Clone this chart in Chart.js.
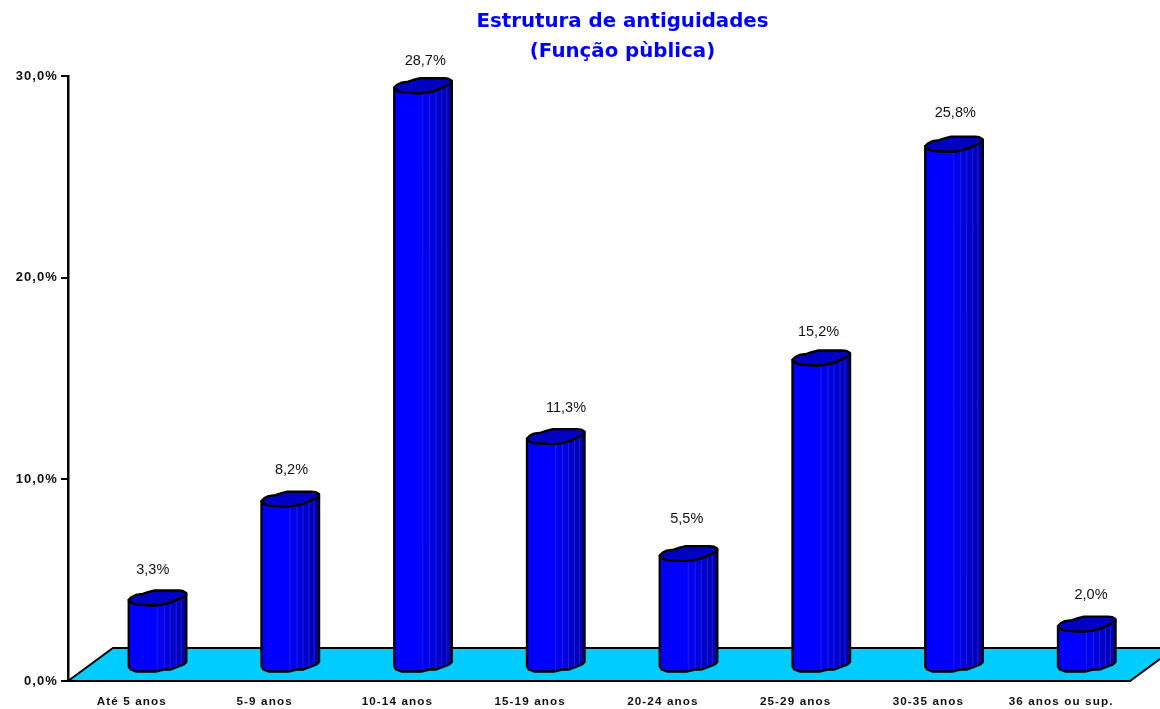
<!DOCTYPE html>
<html>
<head>
<meta charset="utf-8">
<title>Estrutura de antiguidades</title>
<script src="https://cdn.jsdelivr.net/npm/chart.js@4"></script>
<style>
  html, body { margin: 0; padding: 0; background: #fff; }
  canvas { display: block; }
</style>
</head>
<body>
<canvas id="antiguidadeChart" width="1160" height="709"></canvas>
<script>
// Dados
const categorias = ['Até 5 anos', '5-9 anos', '10-14 anos', '15-19 anos', '20-24 anos', '25-29 anos', '30-35 anos', '36 anos ou sup.'];
const valores = [3.3, 8.2, 28.7, 11.3, 5.5, 15.2, 25.8, 2.0];
const rotulos = ['3,3%', '8,2%', '28,7%', '11,3%', '5,5%', '15,2%', '25,8%', '2,0%'];
const ticksY = ['0,0%', '10,0%', '20,0%', '30,0%'];
const titulo = ['Estrutura de antiguidades', '(Função pùblica)'];

// Forma do cilindro 3D (desvios a partir da aresta esquerda)
const barDx = 23.4, barDy = -14.5, barW = 58;
const bordaFrente = [[0, 0], [3, 3], [7, 4.5], [25, 5.5], [34, 4.5], [42, 2.5], [52, -2], [57.5, -5]];
const bordaTras = [[57.5, -7], [54, -9], [50, -9.5], [26, -9.5], [20, -8], [14, -6], [7, -5], [3, -3]];
const bordaFundo = [[0, 1], [2, 4], [7, 6], [27, 6], [35, 4], [42, 4], [55, -1], [57.5, -3.5]];
const faixas = [[0, '#0000ff'], [28, '#0000ee'], [35, '#0000dc'], [41, '#0000cc'], [47, '#0000bc'], [52, '#0000b0']];
// desvios dos rótulos em relação ao topo de cada barra, como no original
const ajusteRotulo = [[-1, -2], [5, -3], [6, 1], [14, -3], [2, -9], [1, 0], [5, -5], [8, -3]];

function caminho(ctx, x, y, pts) {
  pts.forEach(p => ctx.lineTo(x + p[0], y + p[1]));
}

const cilindros = {
  id: 'cilindros',
  beforeDraw(chart) {
    chart.ctx.letterSpacing = '1.1px';
  },
  // chão azul
  beforeDatasetsDraw(chart) {
    const { ctx, chartArea: a } = chart;
    ctx.save();
    ctx.beginPath();
    ctx.moveTo(a.left, a.bottom);
    ctx.lineTo(a.left + 45, a.bottom - 33);
    ctx.lineTo(a.right + 45, a.bottom - 33);
    ctx.lineTo(a.right, a.bottom);
    ctx.closePath();
    ctx.fillStyle = '#00ccff';
    ctx.fill();
    ctx.strokeStyle = '#000';
    ctx.lineWidth = 2;
    ctx.stroke();
    ctx.restore();
  },
  afterDatasetsDraw(chart) {
    const { ctx } = chart;
    const meta = chart.getDatasetMeta(0);
    ctx.save();
    ctx.lineJoin = 'round';
    ctx.lineWidth = 2.4;
    ctx.strokeStyle = '#000';
    meta.data.forEach((bar, i) => {
      const x = bar.x - barW / 2 + barDx;
      const yt = bar.y + barDy;
      const yb = bar.base + barDy;

      // corpo
      const grad = ctx.createLinearGradient(x, 0, x + barW, 0);
      faixas.forEach((f, k) => {
        const ini = f[0] / barW;
        const fim = k + 1 < faixas.length ? faixas[k + 1][0] / barW : 1;
        grad.addColorStop(ini, f[1]);
        grad.addColorStop(fim, f[1]);
      });
      ctx.beginPath();
      ctx.moveTo(x, yt);
      caminho(ctx, x, yb, bordaFundo);
      caminho(ctx, x, yt, bordaFrente.slice().reverse());
      ctx.closePath();
      ctx.fillStyle = grad;
      ctx.fill();
      ctx.stroke();

      // linhas claras entre as faixas
      ctx.save();
      ctx.clip();
      ctx.strokeStyle = 'rgba(90,90,255,0.35)';
      ctx.lineWidth = 1;
      faixas.slice(1).forEach(f => {
        ctx.beginPath();
        ctx.moveTo(x + f[0] + 0.5, yt - 12);
        ctx.lineTo(x + f[0] + 0.5, yb + 8);
        ctx.stroke();
      });
      ctx.restore();

      // tampa
      ctx.beginPath();
      ctx.moveTo(x, yt);
      caminho(ctx, x, yt, bordaFrente);
      caminho(ctx, x, yt, bordaTras);
      ctx.closePath();
      ctx.fillStyle = '#0000c4';
      ctx.fill();
      ctx.stroke();

      // rótulo de valor
      ctx.letterSpacing = '0px';
      ctx.font = '14.5px "Liberation Sans"';
      ctx.fillStyle = '#111';
      ctx.textAlign = 'center';
      ctx.textBaseline = 'middle';
      ctx.fillText(rotulos[i], x + 25 + ajusteRotulo[i][0], yt - 28 + ajusteRotulo[i][1]);
    });
    ctx.restore();
    ctx.letterSpacing = '1.1px';
  },
  afterDraw(chart) {
    const { ctx } = chart;
    ctx.save();
    ctx.letterSpacing = '0px';
    ctx.font = 'bold 19.8px "DejaVu Sans"';
    ctx.fillStyle = '#0000ff';
    ctx.textAlign = 'center';
    ctx.textBaseline = 'middle';
    titulo.forEach((t, i) => ctx.fillText(t, 622.5, 22 + i * 30));
    ctx.restore();
  }
};

new Chart(document.getElementById('antiguidadeChart').getContext('2d'), {
  type: 'bar',
  data: {
    labels: categorias,
    datasets: [{
      data: valores,
      backgroundColor: 'transparent',
      barThickness: barW
    }]
  },
  options: {
    responsive: false,
    animation: false,
    layout: { padding: { top: 76, right: 30 } },
    plugins: {
      legend: { display: false },
      tooltip: { enabled: false }
    },
    scales: {
      x: {
        grid: { display: false },
        border: { color: '#000', width: 2 },
        ticks: { color: '#111', font: { family: '"Liberation Sans"', size: 11.7, weight: 'bold' }, padding: 6, labelOffset: -2.5, maxRotation: 0, autoSkip: false },
        afterFit(s) { s.height = 28; }
      },
      y: {
        min: 0,
        max: 30,
        grid: { drawOnChartArea: false, drawTicks: true, tickLength: 7, color: '#000', lineWidth: 2 },
        border: { color: '#000', width: 2.5 },
        ticks: {
          stepSize: 10,
          color: '#111',
          font: { family: '"Liberation Sans"', size: 13, weight: 'bold' },
          padding: 3,
          callback: (v) => ticksY[v / 10]
        },
        afterFit(s) { s.width = 68; }
      }
    }
  },
  plugins: [cilindros]
});
</script>
</body>
</html>
